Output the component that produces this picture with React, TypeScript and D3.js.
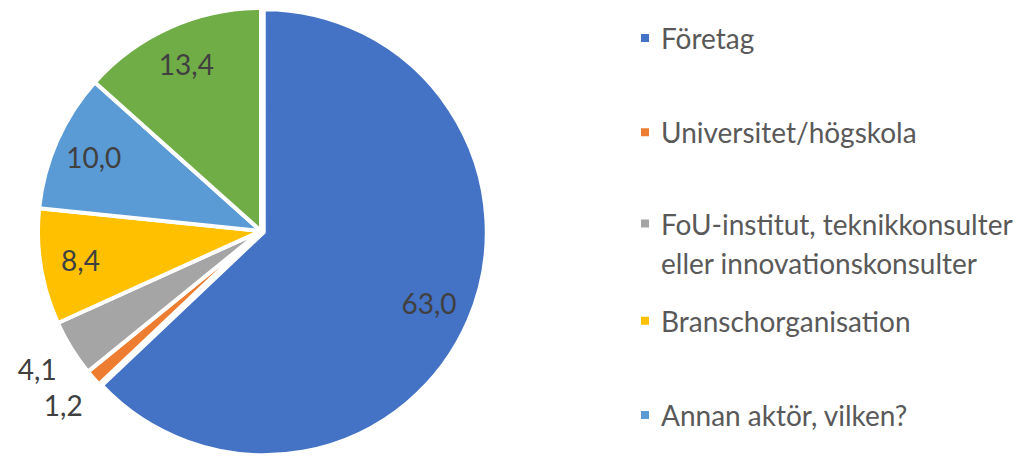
import React from "react";
import * as d3 from "d3";

const categories = [
  "Företag",
  "Universitet/högskola",
  "FoU-institut, teknikkonsulter eller innovationskonsulter",
  "Branschorganisation",
  "Annan aktör, vilken?",
  "Övrigt",
];
const values = [63.0, 1.2, 4.1, 8.4, 10.0, 13.4];
const valueLabels = ["63,0", "1,2", "4,1", "8,4", "10,0", "13,4"];
const labelPlacement = ["in", "out", "out", "in", "in", "in"];
const colors = ["#4472C4", "#ED7D31", "#A5A5A5", "#FFC000", "#5B9BD5", "#70AD47"];
const legendLines = [
  ["Företag"],
  ["Universitet/högskola"],
  ["FoU-institut, teknikkonsulter", "eller innovationskonsulter"],
  ["Branschorganisation"],
  ["Annan aktör, vilken?"],
];

const W = 1022;
const H = 458;
const cx = 261;
const cy = 231;
const R = 223;
const FONT = "Lato, 'Open Sans', sans-serif";

export default function App() {
  const pie = d3
    .pie<number>()
    .sort(null)
    .value((d) => d)
    .startAngle(0)
    .endAngle(2 * Math.PI);
  const arcs = pie(values);
  const arc = d3.arc<d3.PieArcDatum<number>>().innerRadius(0).outerRadius(R);
  const inArc = d3.arc<d3.PieArcDatum<number>>().innerRadius(R * 0.82).outerRadius(R * 0.82);
  const outArc = d3.arc<d3.PieArcDatum<number>>().innerRadius(R * 1.18).outerRadius(R * 1.18);

  const legendY = d3.scaleLinear().domain([0, 4]).range([38, 415]);

  return (
    <svg width={W} height={H} style={{ position: "absolute", left: 0, top: 0, background: "#fff" }}>
      <g transform={`translate(${cx},${cy})`}>
        {arcs.map((a, i) => {
          const [ox, oy] = i === 0 ? d3.arc<d3.PieArcDatum<number>>().innerRadius(3).outerRadius(3).centroid(a) : [0, 0];
          return (
            <path
              key={i}
              d={arc(a) || ""}
              transform={`translate(${ox},${oy})`}
              fill={colors[i]}
              stroke="#fff"
              strokeWidth={4}
              strokeLinejoin="round"
            />
          );
        })}
        {arcs.map((a, i) => {
          const [x, y] = (labelPlacement[i] === "in" ? inArc : outArc).centroid(a);
          return (
            <text
              key={"l" + i}
              x={x}
              y={y}
              textAnchor="middle"
              dominantBaseline="central"
              fontFamily={FONT}
              fontSize={28}
              fill="#404040"
            >
              {valueLabels[i]}
            </text>
          );
        })}
      </g>
      <g>
        {legendLines.map((lines, i) => {
          const y0 = legendY(i) + (i === 2 ? -3 : 0);
          return (
            <g key={"lg" + i}>
              <rect x={641} y={y0 - 4} width={8} height={8} fill={colors[i]} />
              {lines.map((t, j) => (
                <text
                  key={j}
                  x={661}
                  y={y0 + j * 39}
                  dominantBaseline="central"
                  fontFamily={FONT}
                  fontSize={28}
                  fill="#595959"
                >
                  {t}
                </text>
              ))}
            </g>
          );
        })}
      </g>
    </svg>
  );
}
